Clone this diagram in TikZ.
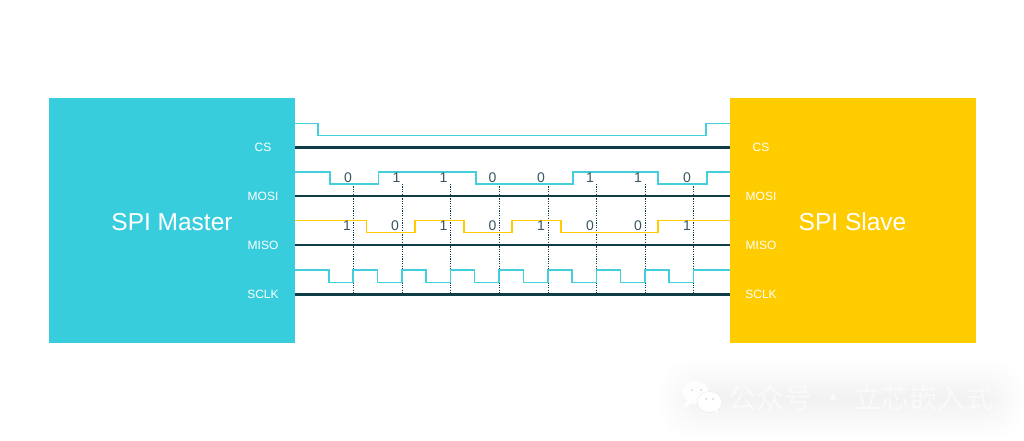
\documentclass[tikz,border=0pt]{standalone}
\usepackage{fontspec}
\setmainfont{Liberation Sans}
\newfontfamily\cjkfont{Noto Sans CJK SC}
\begin{document}
\begin{tikzpicture}[x=1pt,y=-1pt,
  box/.style={draw=none,minimum width=246pt,minimum height=245pt,inner sep=0pt},
  title/.style={text=white,inner sep=0pt,font=\fontsize{24.5}{26}\selectfont},
  pin/.style={text=white,inner sep=0pt,font=\fontsize{12}{13}\selectfont},
  bit/.style={text=bitcol,inner sep=0pt,font=\fontsize{14}{15}\selectfont},
  bus/.style={draw=buscol,line width=2.4pt},
  wave/.style={draw=cyanwave,line width=1.1pt,line join=miter},
  wavey/.style={draw=yellowbox,line width=1.2pt,line join=miter},
  tick/.style={draw=buscol,line width=0.9pt,dash pattern=on 1.2pt off 1.2pt},
  glow/.style={fill=black,opacity=0.004,rounded corners=30pt}]
\definecolor{cyanbox}{HTML}{38CDDC}
\definecolor{cyanwave}{HTML}{45CFDD}
\definecolor{yellowbox}{HTML}{FFCC00}
\definecolor{buscol}{HTML}{0F3D47}
\definecolor{bitcol}{HTML}{3A5660}
\useasboundingbox (0,0) rectangle (1024,440);
\fill[white] (0,0) rectangle (1024,440);
% boxes
\node[box,fill=cyanbox] (master) at (172,220.5) {};
\node[box,fill=yellowbox] (slave) at (853,220.5) {};
\node[title] (mtitle) at (172,222) {SPI Master};
\node[title] (stitle) at (852.5,222) {SPI Slave};
% buses
\foreach \nm/\lab/\y in {a/CS/147.5,b/MOSI/196,c/MISO/245,d/SCLK/294.5}{
  \coordinate (l\nm) at (295,\y);
  \coordinate (r\nm) at (730,\y);
  \draw[bus] (l\nm) -- (r\nm);
  \node[pin] (ml\nm) at (263,\y) {\lab};
  \node[pin] (sl\nm) at (761,\y) {\lab};
}
% dotted clock marks
\foreach \x in {353,402,450.5,499,548,596.5,645,693.5}
  \draw[tick] (\x,184) -- (\x,294);
% CS
\draw[wave] (295,123.5) -| (318,135.5) -| (706,123.5) -- (730,123.5);
% MOSI
\draw[wave] (295,172) -| (330,184) -| (378.7,172) -| (476,184) -| (573,172) -| (658,184) -| (707,172) -- (730,172);
% MISO
\draw[wavey] (295,220.5) -| (366.7,232.5) -| (415,220.5) -| (464,232.5) -| (512,220.5) -| (561,232.5) -| (658,220.5) -- (730,220.5);
% SCLK
\draw[wave] (295,270) -| (329,282.5) -| (353,270) -| (377.5,282.5) -| (402,270) -| (426,282.5) -| (450.5,270) -| (474.5,282.5) -| (499,270) -| (523.5,282.5) -| (548,270) -| (572,282.5) -| (596.5,270) -| (620.5,282.5) -| (645,270) -| (669,282.5) -| (693.5,270) -- (730,270);
% bits
\foreach \i/\x/\b in {1/348/0,2/396.5/1,3/443.5/1,4/492.5/0,5/541/0,6/590/1,7/638/1,8/687/0}
  \node[bit] (mo\i) at (\x,177.5) {\b};
\foreach \i/\x/\b in {1/347/1,2/395/0,3/443.5/1,4/492.5/0,5/541/1,6/590/0,7/638/0,8/687/1}
  \node[bit] (mi\i) at (\x,226) {\b};
% watermark glow
\foreach \k in {0,3,...,36}
  \fill[glow] (660+\k,360+\k) rectangle (1024-\k,438-\k);
% watermark icon
\fill[white,opacity=0.9] (695.5,392.5) ellipse (13 and 11.5);
\fill[white,opacity=0.9] (686,402) -- (684,408) -- (692,403) -- cycle;
\draw[black!8,line width=0.5pt,fill=white] (709.5,402) ellipse (12.5 and 10.5);
\fill[white] (714,410) -- (717.5,413.5) -- (717,408) -- cycle;
\foreach \p/\q in {692/390,701/390,706/399,713/399}
  \fill[black!18] (\p,\q) circle (1);
\node[text=white,opacity=0.55,inner sep=0pt,font=\cjkfont\fontsize{28}{30}\selectfont] (wm) at (861,398) {公众号 · 立芯嵌入式};
\end{tikzpicture}
\end{document}
